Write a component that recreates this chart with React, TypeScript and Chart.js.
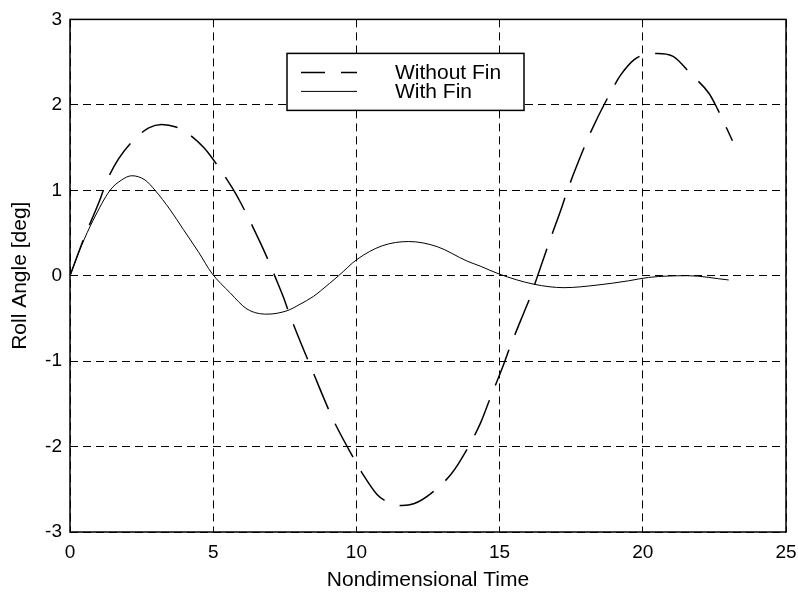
import React, { useEffect, useRef } from "react";
import { Chart, registerables } from "chart.js";

Chart.register(...registerables);

// Data
const timeWithout = [0, 0.5, 1.0, 1.3, 1.7, 2.2, 2.75, 3.2, 3.7, 4.14, 4.67, 5.0, 5.66, 5.95, 6.64, 6.87, 7.17, 7.45, 7.63, 8.15, 8.45, 8.92, 9.21, 9.91, 10.2, 10.72, 11.1, 11.6, 12.0, 12.6, 13.29, 13.64, 14.34, 14.63, 15.15, 15.38, 15.85, 16.08, 16.43, 16.72, 17.19, 17.37, 17.89, 18.18, 18.88, 19.23, 19.7, 20.1, 20.51, 21.04, 21.68, 22.32, 22.61, 23.13];
const rollWithout = [0, 0.45, 0.85, 1.12, 1.37, 1.58, 1.73, 1.77, 1.74, 1.66, 1.5, 1.36, 1.03, 0.86, 0.39, 0.22, -0.02, -0.25, -0.42, -0.86, -1.1, -1.48, -1.7, -2.14, -2.31, -2.56, -2.65, -2.69, -2.67, -2.55, -2.33, -2.16, -1.72, -1.47, -1.03, -0.82, -0.43, -0.24, 0.1, 0.38, 0.82, 1.0, 1.45, 1.68, 2.15, 2.35, 2.53, 2.59, 2.6, 2.57, 2.36, 2.13, 1.95, 1.58];

const timeWith = [0, 0.4, 0.81, 1.4, 1.8, 2.16, 2.62, 2.97, 3.5, 3.96, 4.5, 4.95, 5.59, 6.18, 6.88, 7.58, 8.0, 8.51, 8.74, 9.38, 10.02, 10.9, 11.83, 12.82, 13.87, 14.34, 14.98, 16.2, 17.25, 18.4, 19.5, 20.2, 21.56, 23.0];
const rollWith = [0, 0.35, 0.65, 1.0, 1.12, 1.17, 1.12, 1.0, 0.77, 0.54, 0.27, 0.03, -0.2, -0.39, -0.45, -0.41, -0.34, -0.24, -0.18, 0, 0.19, 0.35, 0.4, 0.34, 0.17, 0.11, 0.02, -0.1, -0.14, -0.11, -0.06, -0.02, 0.0, -0.05];

const seriesLabels = ["Without Fin", "With Fin"];
const xTitle = "Nondimensional Time";
const yTitle = "Roll Angle [deg]";
const xRange = [0, 25];
const yRange = [-3, 3];
const xStep = 5;
const yStep = 1;

const FONT = "'Liberation Sans', Arial, sans-serif";
const TICK_SIZE = 19;
const TEXT_SIZE = 21;

const framePlugin = {
  id: "frameAndLegend",
  afterDraw(chart: any) {
    const { ctx, chartArea } = chart;
    const { left, top, right, bottom } = chartArea;
    ctx.save();
    ctx.setLineDash([]);
    ctx.strokeStyle = "#000";
    ctx.lineWidth = 1.5;
    ctx.strokeRect(left, top, right - left, bottom - top);

    // legend box inside the plot
    const lx = left + 217;
    const ly = top + 34;
    const lw = 237;
    const lh = 57;
    ctx.fillStyle = "#fff";
    ctx.fillRect(lx, ly, lw, lh);
    ctx.lineWidth = 1.5;
    ctx.strokeRect(lx, ly, lw, lh);

    const rows = [ly + 19, ly + 38];
    const styles = [
      { dash: [24, 16], width: 1.5 },
      { dash: [], width: 1 },
    ];
    ctx.font = `${TEXT_SIZE}px ${FONT}`;
    ctx.textBaseline = "middle";
    ctx.textAlign = "left";
    seriesLabels.forEach((label, i) => {
      ctx.beginPath();
      ctx.setLineDash(styles[i].dash);
      ctx.lineWidth = styles[i].width;
      ctx.moveTo(lx + 14, rows[i]);
      ctx.lineTo(lx + 70, rows[i]);
      ctx.stroke();
      ctx.setLineDash([]);
      ctx.fillStyle = "#000";
      ctx.fillText(label, lx + 108, rows[i] + 1);
    });
    ctx.restore();
  },
};

export default function App() {
  const canvasRef = useRef<HTMLCanvasElement | null>(null);

  useEffect(() => {
    document.body.style.margin = "0";
    const canvas = canvasRef.current;
    if (!canvas) return;
    const chart = new Chart(canvas, {
      type: "line",
      data: {
        datasets: [
          {
            label: seriesLabels[0],
            data: timeWithout.map((t, i) => ({ x: t, y: rollWithout[i] })),
            borderColor: "#000",
            borderWidth: 1.5,
            borderDash: [38, 16],
            pointRadius: 0,
            cubicInterpolationMode: "monotone",
            fill: false,
          },
          {
            label: seriesLabels[1],
            data: timeWith.map((t, i) => ({ x: t, y: rollWith[i] })),
            borderColor: "#000",
            borderWidth: 1,
            pointRadius: 0,
            cubicInterpolationMode: "monotone",
            fill: false,
          },
        ],
      },
      options: {
        responsive: false,
        animation: false,
        layout: { padding: { top: 18, right: 12, left: 0, bottom: 0 } },
        plugins: {
          legend: { display: false },
          tooltip: { enabled: false },
        },
        scales: {
          x: {
            type: "linear",
            min: xRange[0],
            max: xRange[1],
            ticks: {
              stepSize: xStep,
              color: "#000",
              padding: 9,
              font: { family: FONT, size: TICK_SIZE },
              maxRotation: 0,
            },
            grid: { color: "#000", lineWidth: 1, drawTicks: false },
            border: { display: false, dash: [8, 5] },
            title: {
              display: true,
              text: xTitle,
              color: "#000",
              font: { family: FONT, size: TEXT_SIZE },
              padding: { top: 0, bottom: 1 },
            },
            afterFit: (scale: any) => {
              scale.height = 62;
              scale.paddingLeft = 0;
              scale.paddingRight = 0;
            },
          },
          y: {
            type: "linear",
            min: yRange[0],
            max: yRange[1],
            ticks: {
              stepSize: yStep,
              color: "#000",
              padding: 8,
              font: { family: FONT, size: TICK_SIZE },
            },
            grid: { color: "#000", lineWidth: 1, drawTicks: false },
            border: { display: false, dash: [8, 5] },
            title: {
              display: true,
              text: yTitle,
              color: "#000",
              font: { family: FONT, size: TEXT_SIZE },
              padding: { top: 8, bottom: 0 },
            },
            afterFit: (scale: any) => {
              scale.width = 70;
            },
          },
        },
      },
      plugins: [framePlugin],
    });
    return () => chart.destroy();
  }, []);

  return (
    <div style={{ position: "fixed", left: 0, top: 0, width: 798, height: 594, background: "#fff" }}>
      <canvas ref={canvasRef} width={798} height={594} style={{ width: 798, height: 594 }} />
    </div>
  );
}
